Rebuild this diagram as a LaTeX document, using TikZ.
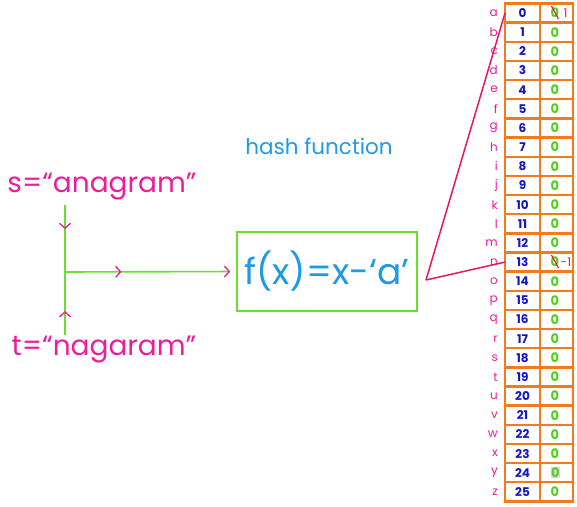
\documentclass[tikz,border=0pt]{standalone}
\usepackage{fontspec}
\setmainfont{Poppins}
\usepackage{xcolor}
\definecolor{inkPink}{HTML}{EE1C9A}
\definecolor{linePink}{HTML}{E8175D}
\definecolor{boxGreen}{HTML}{66E02A}
\definecolor{zeroGreen}{HTML}{4FD11C}
\definecolor{skyBlue}{HTML}{1F9BE6}
\definecolor{inkBlue}{HTML}{1414C8}
\definecolor{cellOrange}{HTML}{F47A1F}
\usetikzlibrary{
    arrows.meta,
    decorations.markings,
    positioning,
    calc
}
\tikzset{
    % Input strings on the left
    input/.style={
        text=inkPink,
        font=\fontsize{28}{32}\selectfont,
        inner sep=0pt,
    },
    % Green box holding the hash function
    hashbox/.style={
        draw=boxGreen,
        line width=1.6pt,
        minimum width=180pt,
        minimum height=79pt,
        text=skyBlue,
        font=\fontsize{36}{40}\selectfont,
    },
    % Caption above the box
    caption/.style={
        text=skyBlue,
        font=\fontsize{21.5}{25}\selectfont,
    },
    % Letters beside the table
    letter/.style={
        text=inkPink,
        font=\fontsize{12}{14}\selectfont,
        inner sep=0pt,
    },
    % Index cells of the table
    idxcell/.style={
        draw=cellOrange,
        line width=2.4pt,
        outer sep=0pt,
        inner sep=0pt,
        minimum width=35pt,
        minimum height=19.15pt,
        text=inkBlue,
        font=\fontsize{12}{14}\selectfont\bfseries,
    },
    % Count cells of the table
    cntcell/.style={
        idxcell,
        minimum width=33pt,
        text width=12pt,
        align=left,
        text=zeroGreen,
        font=\fontsize{13}{15}\selectfont\bfseries,
    },
    % Corrections written over a count
    fix/.style={
        text=linePink,
        font=\fontsize{12}{14}\selectfont,
        inner sep=0pt,
    },
    strike/.style={
        draw=linePink,
        line width=1.2pt,
    },
    % Green flow lines with pink ticks
    flow/.style={
        draw=boxGreen,
        line width=1.6pt,
    },
    tick at/.style={
        postaction={decorate, decoration={markings,
            mark=at position #1 with {\arrow[inkPink, line width=1.3pt]{Straight Barb[length=5pt, width=11pt]}}}},
    },
    % Pink links from the box into the table
    link/.style={
        draw=linePink,
        line width=1.5pt,
    },
}

\begin{document}
\begin{tikzpicture}[x=1pt, y=-1pt]
    \useasboundingbox (0,0) rectangle (577,506);

    % inputs
    \node[input] (s) at (102,187) {s=“anagram”};
    \node[input] (t) at (104,350) {t=“nagaram”};
    \coordinate (stop) at (65,205);
    \coordinate (tbot) at (65,335);
    \coordinate (join) at (65,272);

    % hash function
    \node[hashbox] (fbox) at (327,271.5) {f(x)=x-‘a’};
    \node[caption] (hashlbl) at (319,146) {hash function};

    \draw[flow, tick at=0.36] (stop) -- (join);
    \draw[flow, tick at=0.38] (tbot) -- (join);
    \draw[flow, tick at=0.33, -{Straight Barb[inkPink, length=5pt, width=11pt, line width=1.3pt]}, shorten >=6pt] (join) -- (fbox.west);

    % table
    \foreach \l [count=\n from 0] in {a,b,c,d,e,f,g,h,i,j,k,l,m,n,o,p,q,r,s,t,u,v,w,x,y,z} {
        \node[idxcell] (idx-\n) at (522.5, {13.1+19.15*\n}) {\n};
        \node[cntcell, right=0pt of idx-\n] (cnt-\n) {\ifnum\n=24 {\setlength\fboxsep{0.6pt}\colorbox{gray!30}{0}}\else 0\fi};
        \node[letter, left=7pt of idx-\n] (let-\n) {\l};
    }

    % corrected counts
    \draw[strike] ($(cnt-0.center)+(-5,-7)$) -- ++(7,13);
    \node[fix, right=7pt of cnt-0.center] (fix-0) {1};
    \draw[strike] ($(cnt-13.center)+(-5,-7)$) -- ++(7,13);
    \node[fix, right=4pt of cnt-13.center] (fix-13) {-1};

    % links into the table
    \coordinate (hashout) at (426,280);
    \draw[link] (hashout) -- (idx-0.west);
    \draw[link] (hashout) -- (idx-13.west);
\end{tikzpicture}
\end{document}
